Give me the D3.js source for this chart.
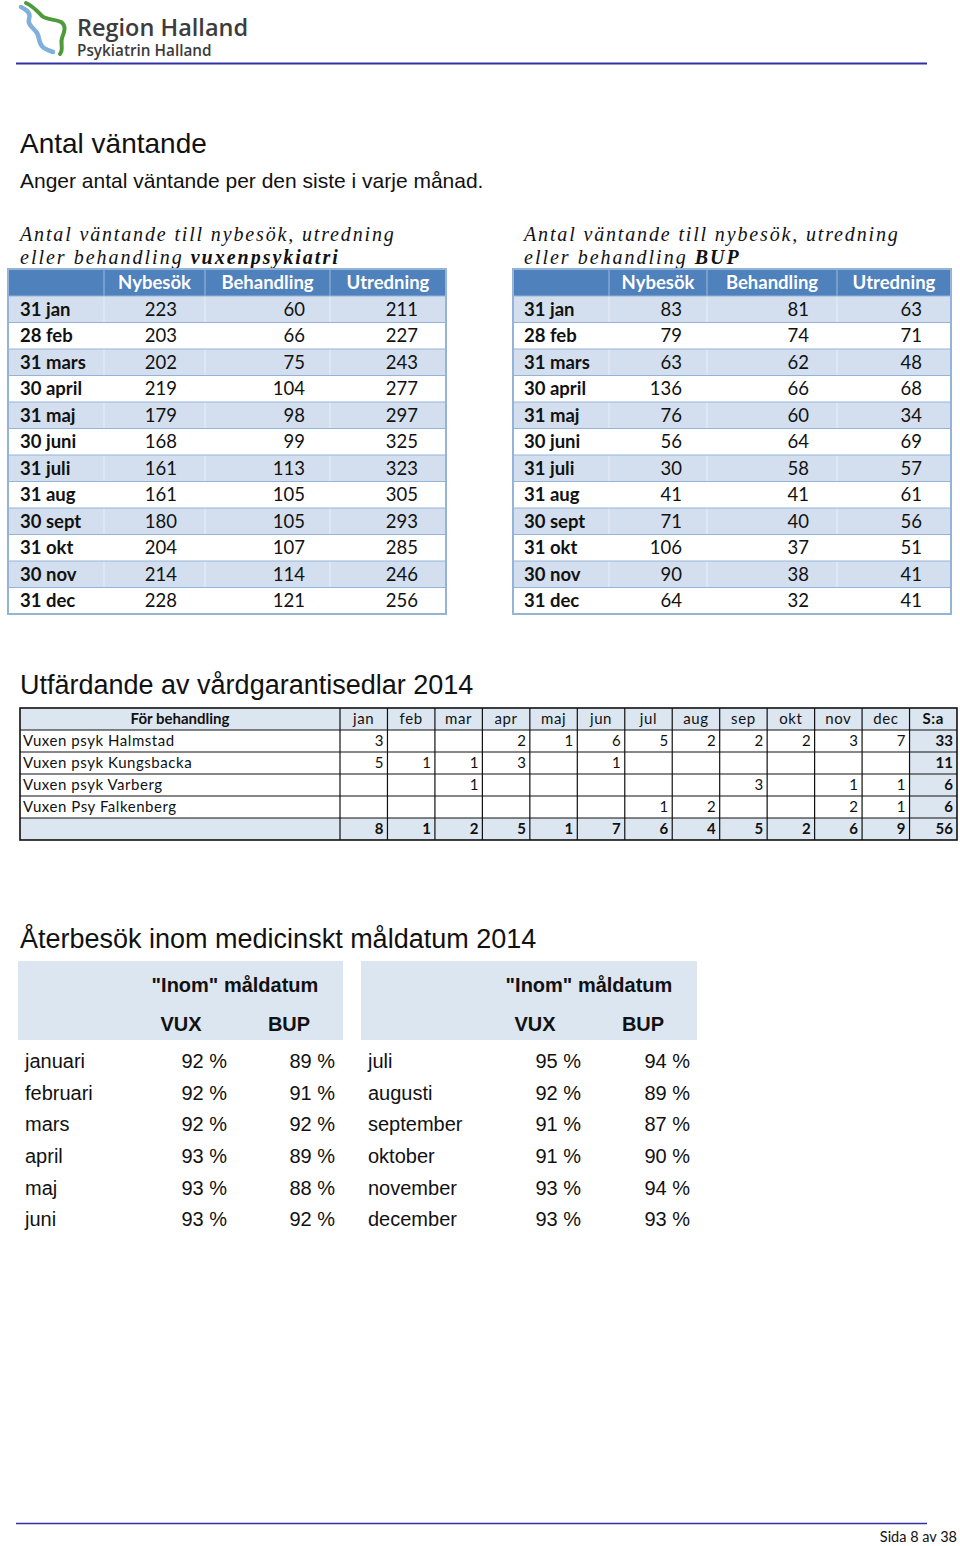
<!DOCTYPE html>
<html><head><meta charset="utf-8">
<script src="https://cdn.jsdelivr.net/npm/d3@7"></script>
<style>html,body{margin:0;padding:0;background:#fff}svg{display:block}</style>
</head><body>
<script>
// ---------- DATA ----------
const waitDates = ["31 jan","28 feb","31 mars","30 april","31 maj","30 juni","31 juli","31 aug","30 sept","31 okt","30 nov","31 dec"];
const waitColumns = ["Nybesök","Behandling","Utredning"];
const vuxNybesok    = [223,203,202,219,179,168,161,161,180,204,214,228];
const vuxBehandling = [60,66,75,104,98,99,113,105,105,107,114,121];
const vuxUtredning  = [211,227,243,277,297,325,323,305,293,285,246,256];
const bupNybesok    = [83,79,63,136,76,56,30,41,71,106,90,64];
const bupBehandling = [81,74,62,66,60,64,58,41,40,37,38,32];
const bupUtredning  = [63,71,48,68,34,69,57,61,56,51,41,41];

const vgMonths = ["jan","feb","mar","apr","maj","jun","jul","aug","sep","okt","nov","dec"];
const vgUnits = ["Vuxen psyk Halmstad","Vuxen psyk Kungsbacka","Vuxen psyk Varberg","Vuxen Psy Falkenberg"];
const vgHalmstad   = [3,null,null,2,1,6,5,2,2,2,3,7];
const vgKungsbacka = [5,1,1,3,null,1,null,null,null,null,null,null];
const vgVarberg    = [null,null,1,null,null,null,null,null,3,null,1,1];
const vgFalkenberg = [null,null,null,null,null,null,1,2,null,null,2,1];
const vgSums  = [33,11,6,6];
const vgTotals = [8,1,2,5,1,7,6,4,5,2,6,9];
const vgGrandTotal = 56;

const pctMonths1 = ["januari","februari","mars","april","maj","juni"];
const pctVux1 = [92,92,92,93,93,93];
const pctBup1 = [89,91,92,89,88,92];
const pctMonths2 = ["juli","augusti","september","oktober","november","december"];
const pctVux2 = [95,92,91,91,93,93];
const pctBup2 = [94,89,87,90,94,93];

// ---------- SETUP ----------
const W = 960, H = 1546;
const svg = d3.select("body").append("svg").attr("width", W).attr("height", H)
  .style("font-family", "'Liberation Sans', Arial, sans-serif");
const CAL = "Lato, 'Open Sans', sans-serif";
const ARIAL = "'Liberation Sans', Arial, sans-serif";

// ---------- LOGO / HEADER ----------
const logo = svg.append("g");
logo.append("path").attr("d","M21,7 C27,10 31,13 29,19 C27,25 34,28 37,33 C40,38 38,44 44,48 C47,50 50,51 53,52")
  .attr("fill","none").attr("stroke","#7fb0dc").attr("stroke-width",4.5).attr("stroke-linecap","round");
logo.append("path").attr("d","M26,3 C33,6 38,12 42,16 C47,20 55,19 61,22 C67,26 64,33 62,38 C60,44 64,49 60,54")
  .attr("fill","none").attr("stroke","#4f9a3a").attr("stroke-width",4).attr("stroke-linecap","round");
logo.append("text").attr("x",77).attr("y",36).text("Region Halland")
  .style("font-family","'Open Sans', sans-serif").style("font-size","23.5px").style("font-weight",600).attr("fill","#3c3c3c");
logo.append("text").attr("x",77).attr("y",56).text("Psykiatrin Halland")
  .style("font-family","'Open Sans', sans-serif").style("font-size","15.3px").style("font-weight",600).attr("fill","#3c3c3c");
svg.append("line").attr("x1",16).attr("x2",927).attr("y1",63.5).attr("y2",63.5).attr("stroke","#3030a8").attr("stroke-width",2);

svg.append("text").attr("x",20).attr("y",153).text("Antal väntande").style("font-size","28px").attr("fill","#111");
svg.append("text").attr("x",20).attr("y",188).text("Anger antal väntande per den siste i varje månad.").style("font-size","21px").attr("fill","#111");

// ---------- WAITING TABLES ----------
function waitTable(cfg) {
  const g = svg.append("g");
  g.append("text").attr("x", cfg.titleX).attr("y", 241)
    .style("font-family","'Liberation Serif', serif").style("font-style","italic").style("font-size","20px")
    .style("letter-spacing","1.85px").attr("fill","#111").text("Antal väntande till nybesök, utredning");
  const t2 = g.append("text").attr("x", cfg.titleX).attr("y", 264)
    .style("font-family","'Liberation Serif', serif").style("font-style","italic").style("font-size","20px")
    .style("letter-spacing","2px").attr("fill","#111");
  t2.append("tspan").text("eller behandling ");
  t2.append("tspan").style("font-weight","bold").text(cfg.bold);

  const y = d3.scaleBand().domain(waitDates).range([296, 614]);
  const x = d3.scaleOrdinal().domain(["label"].concat(waitColumns)).range(cfg.bounds.slice(0,4));
  const xr = d3.scaleOrdinal().domain(["label"].concat(waitColumns)).range(cfg.bounds.slice(1));
  const left = cfg.bounds[0], right = cfg.bounds[4];

  g.append("rect").attr("x",left).attr("y",269).attr("width",right-left).attr("height",27).attr("fill","#4f81bd");
  g.selectAll("rect.row").data(waitDates).join("rect").attr("class","row")
    .attr("x",left).attr("y",d=>y(d)).attr("width",right-left).attr("height",y.bandwidth())
    .attr("fill",(d,i)=> i%2===0 ? "#d3dfee" : "#ffffff");
  g.selectAll("line.vs").data(waitColumns).join("line").attr("class","vs")
    .attr("x1",d=>x(d)).attr("x2",d=>x(d)).attr("y1",269).attr("y2",614)
    .attr("stroke","#ffffff").attr("stroke-opacity",0.45).attr("stroke-width",1);
  g.selectAll("line.hs").data(waitDates).join("line").attr("class","hs")
    .attr("x1",left).attr("x2",right).attr("y1",d=>y(d)).attr("y2",d=>y(d))
    .attr("stroke","#95b3d7").attr("stroke-width",1.2);
  g.append("rect").attr("x",left).attr("y",269).attr("width",right-left).attr("height",614-269)
    .attr("fill","none").attr("stroke","#95b3d7").attr("stroke-width",2);
  g.selectAll("text.hd").data(waitColumns).join("text").attr("class","hd")
    .attr("x",d=>(x(d)+xr(d))/2).attr("y",289).attr("text-anchor","middle")
    .style("font-family",CAL).style("font-weight","bold").style("font-size","18.5px").attr("fill","#fff").text(d=>d);
  g.selectAll("text.lb").data(waitDates).join("text").attr("class","lb")
    .attr("x",cfg.labelX).attr("y",d=>y(d)+y.bandwidth()/2+6.5)
    .style("font-family",CAL).style("font-weight","bold").style("font-size","18.5px").attr("fill","#111").text(d=>d);
  cfg.series.forEach((vals, ci) => {
    const col = waitColumns[ci];
    g.selectAll("text.v"+ci).data(vals).join("text").attr("class","v"+ci)
      .attr("x", xr(col) - cfg.pad[ci]).attr("y",(d,i)=>y(waitDates[i])+y.bandwidth()/2+6.5)
      .attr("text-anchor","end").style("font-family",CAL).style("font-size","18.5px").attr("fill","#111").text(d=>d);
  });
}
waitTable({titleX:20, labelX:20, bold:"vuxenpsykiatri", bounds:[8,104,205,330,446],
  series:[vuxNybesok,vuxBehandling,vuxUtredning], pad:[28,25,28]});
waitTable({titleX:524, labelX:524, bold:"BUP", bounds:[513,609,707,837,951],
  series:[bupNybesok,bupBehandling,bupUtredning], pad:[25,28,29]});

// ---------- VÅRDGARANTI TABLE ----------
svg.append("text").attr("x",20).attr("y",694).text("Utfärdande av vårdgarantisedlar 2014").style("font-size","27px").attr("fill","#111");
(function(){
  const g = svg.append("g");
  const rowKeys = ["head"].concat(vgUnits).concat(["total"]);
  const y = d3.scaleBand().domain(rowKeys).range([708, 840]);
  const cols = ["name"].concat(vgMonths).concat(["S:a"]);
  const xm = d3.scaleBand().domain(vgMonths.concat(["S:a"])).range([340, 957]);
  const rowsData = [vgHalmstad, vgKungsbacka, vgVarberg, vgFalkenberg];
  g.append("rect").attr("x",20).attr("y",y("head")).attr("width",937).attr("height",y.bandwidth()).attr("fill","#dce6f1");
  g.append("rect").attr("x",20).attr("y",y("total")).attr("width",937).attr("height",y.bandwidth()).attr("fill","#dce6f1");
  g.append("rect").attr("x",xm("S:a")).attr("y",y("head")).attr("width",xm.bandwidth()).attr("height",840-708).attr("fill","#dce6f1");
  g.selectAll("line.h").data(rowKeys.slice(1)).join("line").attr("class","h")
    .attr("x1",20).attr("x2",957).attr("y1",d=>y(d)).attr("y2",d=>y(d)).attr("stroke","#111").attr("stroke-width",1.2);
  g.selectAll("line.v").data(vgMonths.concat(["S:a"])).join("line").attr("class","v")
    .attr("x1",d=>xm(d)).attr("x2",d=>xm(d)).attr("y1",708).attr("y2",840).attr("stroke","#111").attr("stroke-width",1.2);
  g.append("rect").attr("x",20).attr("y",708).attr("width",937).attr("height",132).attr("fill","none").attr("stroke","#111").attr("stroke-width",1.6);
  const fs = "15px";
  g.append("text").attr("x",180).attr("y",y("head")+y.bandwidth()/2+5).attr("text-anchor","middle")
    .style("font-family",CAL).style("font-weight","bold").style("font-size",fs).attr("fill","#111").text("För behandling");
  g.selectAll("text.mh").data(vgMonths.concat(["S:a"])).join("text").attr("class","mh")
    .attr("x",d=>xm(d)+xm.bandwidth()/2).attr("y",y("head")+y.bandwidth()/2+5).attr("text-anchor","middle")
    .style("font-family",CAL).style("font-size",fs).style("letter-spacing","0.6px")
    .style("font-weight",d=>d==="S:a"?"bold":"normal").attr("fill","#111").text(d=>d);
  vgUnits.forEach((u,ri)=>{
    g.append("text").attr("x",23).attr("y",y(u)+y.bandwidth()/2+5)
      .style("font-family",CAL).style("font-size",fs).style("letter-spacing","0.55px").attr("fill","#111").text(u);
    g.selectAll("text.c"+ri).data(rowsData[ri]).join("text").attr("class","c"+ri)
      .attr("x",(d,i)=>xm(vgMonths[i])+xm.bandwidth()-4).attr("y",y(u)+y.bandwidth()/2+5).attr("text-anchor","end")
      .style("font-family",CAL).style("font-size",fs).attr("fill","#111").text(d=>d==null?"":d);
    g.append("text").attr("x",xm("S:a")+xm.bandwidth()-4).attr("y",y(u)+y.bandwidth()/2+5).attr("text-anchor","end")
      .style("font-family",CAL).style("font-weight","bold").style("font-size",fs).attr("fill","#111").text(vgSums[ri]);
  });
  g.selectAll("text.tt").data(vgTotals.concat([vgGrandTotal])).join("text").attr("class","tt")
    .attr("x",(d,i)=>xm(cols[i+1])+xm.bandwidth()-4).attr("y",y("total")+y.bandwidth()/2+5).attr("text-anchor","end")
    .style("font-family",CAL).style("font-weight","bold").style("font-size",fs).attr("fill","#111").text(d=>d);
})();

// ---------- ÅTERBESÖK ----------
svg.append("text").attr("x",20).attr("y",948).text("Återbesök inom medicinskt måldatum 2014").style("font-size","27px").attr("fill","#111");
function pctBlock(cfg){
  const g = svg.append("g");
  g.append("rect").attr("x",cfg.boxX).attr("y",961).attr("width",cfg.boxW).attr("height",79).attr("fill","#dce6f1");
  g.append("text").attr("x",cfg.headX).attr("y",992).attr("text-anchor","middle")
    .style("font-family",ARIAL).style("font-weight","bold").style("font-size","20px").attr("fill","#111").text('"Inom" måldatum');
  const y = d3.scaleBand().domain(cfg.months).range([1045, 1235]);
  const xs = d3.scaleOrdinal().domain(["VUX","BUP"]).range(cfg.valRight);
  g.selectAll("text.ch").data(["VUX","BUP"]).join("text").attr("class","ch")
    .attr("x",(d,i)=>cfg.colCenter[i]).attr("y",1031).attr("text-anchor","middle")
    .style("font-family",ARIAL).style("font-weight","bold").style("font-size","20px").attr("fill","#111").text(d=>d);
  g.selectAll("text.m").data(cfg.months).join("text").attr("class","m")
    .attr("x",cfg.labelX).attr("y",d=>y(d)+y.bandwidth()/2+7)
    .style("font-family",ARIAL).style("font-size","20px").attr("fill","#111").text(d=>d);
  [["VUX",cfg.vux],["BUP",cfg.bup]].forEach(([k,vals])=>{
    g.selectAll("text.p"+k).data(vals).join("text").attr("class","p"+k)
      .attr("x",xs(k)).attr("y",(d,i)=>y(cfg.months[i])+y.bandwidth()/2+7).attr("text-anchor","end")
      .style("font-family",ARIAL).style("font-size","20px").attr("fill","#111").text(d=>d+" %");
  });
}
pctBlock({boxX:18, boxW:325, headX:235, colCenter:[181,289], valRight:[227,335], labelX:25,
  months:pctMonths1, vux:pctVux1, bup:pctBup1});
pctBlock({boxX:361, boxW:336, headX:589, colCenter:[535,643], valRight:[581,690], labelX:368,
  months:pctMonths2, vux:pctVux2, bup:pctBup2});

// ---------- FOOTER ----------
svg.append("line").attr("x1",16).attr("x2",927).attr("y1",1523.5).attr("y2",1523.5).attr("stroke","#3030a8").attr("stroke-width",1.5);
svg.append("text").attr("x",957).attr("y",1542).attr("text-anchor","end")
  .style("font-family",CAL).style("font-size","14.5px").attr("fill","#111").text("Sida 8 av 38");
</script>
</body></html>
